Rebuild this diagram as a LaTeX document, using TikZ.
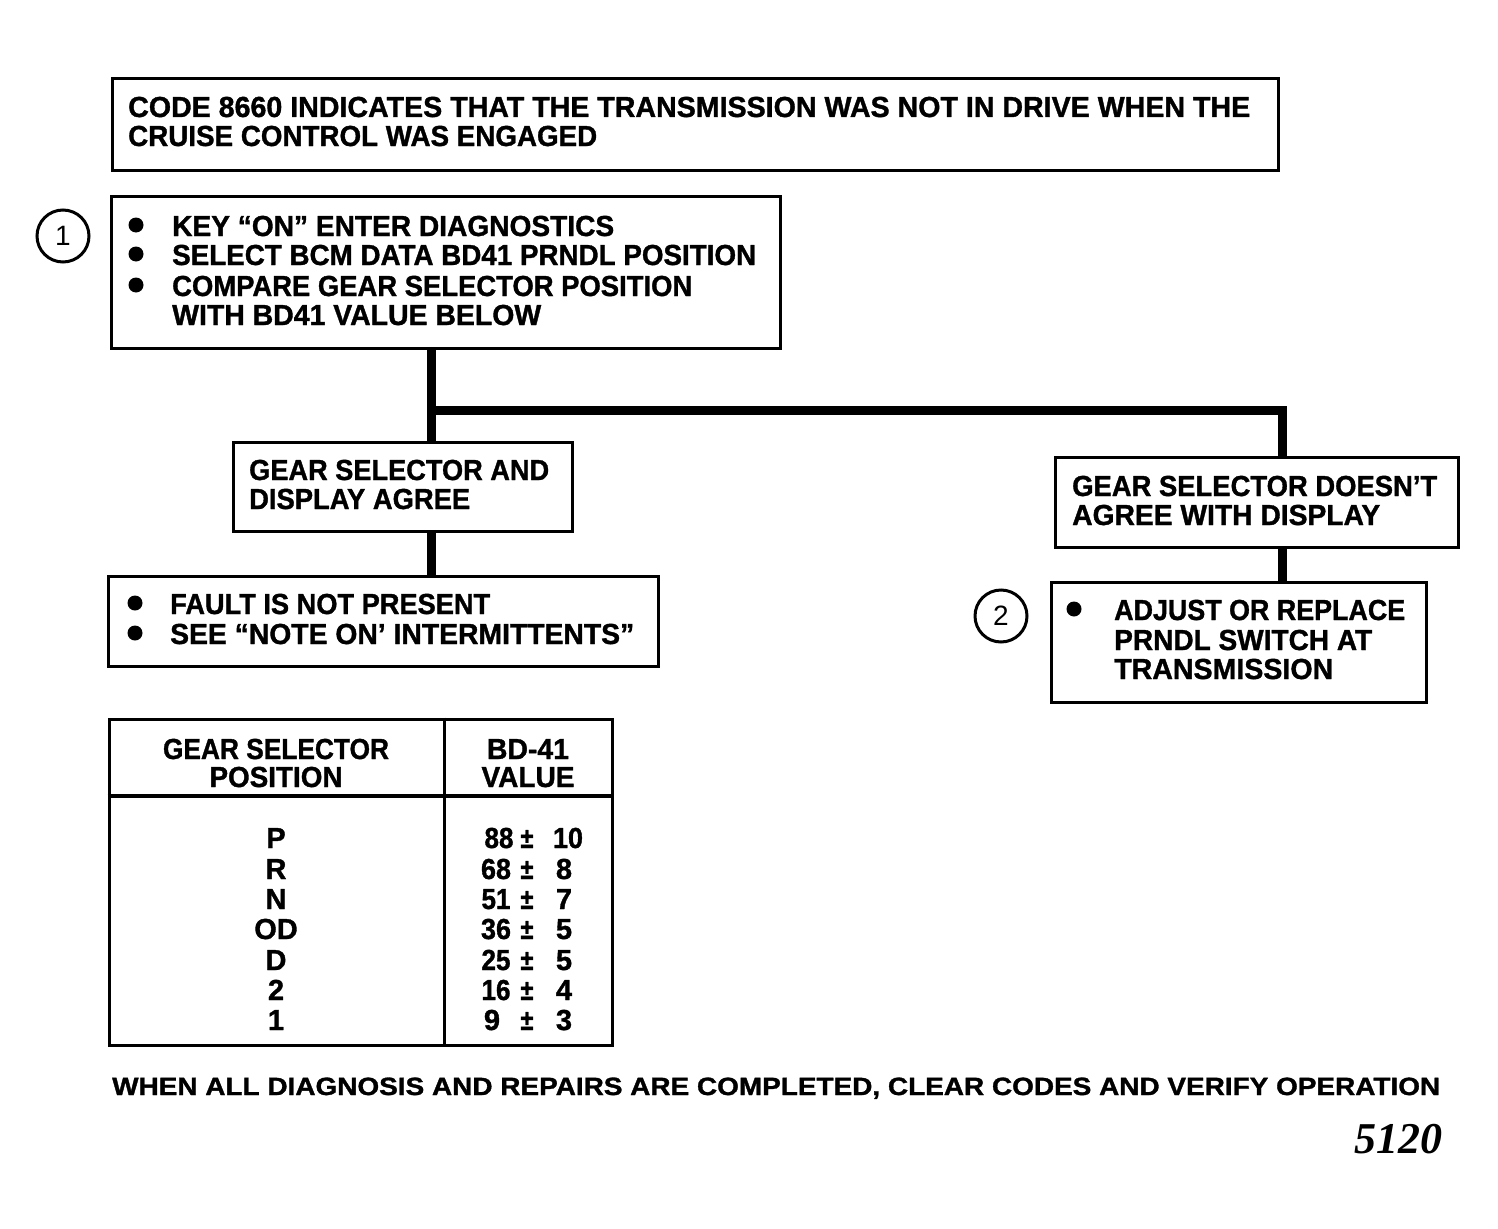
\documentclass[tikz,border=0pt]{standalone}
\usepackage{fontspec}
\usepackage{graphicx}
\setmainfont{Liberation Sans}[BoldFeatures={FakeBold=1.2}]
\newfontfamily\serfont{Liberation Serif}
\newcommand\fw[2]{\resizebox{#1pt}{\height}{#2}}
\tikzset{
  box/.style={draw, line width=3pt, inner sep=0pt, rectangle},
  conn/.style={line width=9pt, line join=miter},
  txt/.style={inner sep=0pt, anchor=base west, font=\fontsize{29}{30}\selectfont\bfseries},
  ctxt/.style={txt, anchor=base},
  foot/.style={txt, font=\fontsize{25}{27}\selectfont\bfseries},
  bul/.style={circle, fill, inner sep=0pt, minimum size=15pt},
  num/.style={circle, draw, line width=3pt, minimum size=52pt, inner sep=0pt, font=\fontsize{28}{30}\selectfont},
  tline/.style={line width=3pt},
  pm/.style={ctxt, xscale=0.85},
}
\begin{document}
\begin{tikzpicture}[x=1pt,y=-1pt]
\useasboundingbox (0,0) rectangle (1498,1228);
% boxes
\node[box, minimum width=1166pt, minimum height=91pt] (top) at (695,124.5) {};
\node[box, minimum width=669pt, minimum height=152pt] (b1) at (445.5,272) {};
\node[box, minimum width=339pt, minimum height=89pt] (agree) at (402.5,486.5) {};
\node[box, minimum width=550pt, minimum height=90pt] (fault) at (383,621) {};
\node[box, minimum width=403pt, minimum height=90pt] (nagree) at (1256.5,502) {};
\node[box, minimum width=375pt, minimum height=120pt] (adjust) at (1238.5,642) {};
\node[box, minimum width=503pt, minimum height=326pt] (tbl) at (360.5,882) {};
% step numbers
\node[num] (n1) at (63,236) {1};
\node[num] (n2) at (1001,616) {2};
% connectors
\coordinate (j) at (431,410);
\coordinate (jr) at (1282,410);
\draw[conn] (b1.south -| j) -- (agree.north -| j);
\draw[conn] (j) -- (jr) -- (nagree.north -| jr);
\draw[conn] (agree.south -| j) -- (fault.north -| j);
\draw[conn] (nagree.south -| jr) -- (adjust.north -| jr);
% top text
\node[txt] (t1) at (128,117) {\fw{1122}{CODE 8660 INDICATES THAT THE TRANSMISSION WAS NOT IN DRIVE WHEN THE}};
\node[txt] (t2) at (128,146) {\fw{469}{CRUISE CONTROL WAS ENGAGED}};
% box 1
\node[bul] (u1) at (136,225) {};
\node[bul] (u2) at (136,254) {};
\node[bul] (u3) at (136,285) {};
\node[txt] (s1) at (172,236) {\fw{442}{KEY “ON” ENTER DIAGNOSTICS}};
\node[txt] (s2) at (172,265) {\fw{584}{SELECT BCM DATA BD41 PRNDL POSITION}};
\node[txt] (s3) at (172,296) {\fw{520}{COMPARE GEAR SELECTOR POSITION}};
\node[txt] (s4) at (172,325) {\fw{369}{WITH BD41 VALUE BELOW}};
% agree
\node[txt] (a1) at (249,480) {\fw{300}{GEAR SELECTOR AND}};
\node[txt] (a2) at (249,509) {\fw{221}{DISPLAY AGREE}};
% fault
\node[bul] (u4) at (135,603) {};
\node[bul] (u5) at (135,633) {};
\node[txt] (f1) at (170,614) {\fw{320}{FAULT IS NOT PRESENT}};
\node[txt] (f2) at (170,644) {\fw{464}{SEE “NOTE ON’ INTERMITTENTS”}};
% not agree
\node[txt] (g1) at (1072,496) {\fw{365}{GEAR SELECTOR DOESN’T}};
\node[txt] (g2) at (1072,525) {\fw{308}{AGREE WITH DISPLAY}};
% adjust
\node[bul] (u6) at (1074,609) {};
\node[txt] (d1) at (1114,620) {\fw{291}{ADJUST OR REPLACE}};
\node[txt] (d2) at (1114,650) {\fw{258}{PRNDL SWITCH AT}};
\node[txt] (d3) at (1114,679) {\fw{219}{TRANSMISSION}};
% table
\coordinate (cd) at (444,0);
\coordinate (hd) at (0,796);
\draw[tline] (cd |- tbl.north) -- (cd |- tbl.south);
\draw[tline, line width=4pt] (tbl.west |- hd) -- (tbl.east |- hd);
\node[ctxt] (h1) at (276,759) {\fw{226}{GEAR SELECTOR}};
\node[ctxt] (h2) at (276,787) {\fw{133}{POSITION}};
\node[ctxt] (h3) at (528,759) {\fw{82}{BD-41}};
\node[ctxt] (h4) at (528,787) {\fw{93}{VALUE}};
\node[ctxt] (p1) at (276,848) {P};
\node[ctxt] (p2) at (276,879) {R};
\node[ctxt] (p3) at (276,909) {N};
\node[ctxt] (p4) at (276,939) {OD};
\node[ctxt] (p5) at (276,970) {D};
\node[ctxt] (p6) at (276,1000) {2};
\node[ctxt] (p7) at (276,1030) {1};
\node[ctxt] (v1) at (499,848) {\fw{29}{88}};
\node[ctxt] (v2) at (496,879) {\fw{30}{68}};
\node[ctxt] (v3) at (496,909) {\fw{29}{51}};
\node[ctxt] (v4) at (496,939) {\fw{30}{36}};
\node[ctxt] (v5) at (496,970) {\fw{29}{25}};
\node[ctxt] (v6) at (496,1000) {\fw{29}{16}};
\node[ctxt] (v7) at (492,1030) {9};
\node[ctxt] (m1) at (527,848) {\fw{13}{±}};
\node[ctxt] (m2) at (527,879) {\fw{13}{±}};
\node[ctxt] (m3) at (527,909) {\fw{13}{±}};
\node[ctxt] (m4) at (527,939) {\fw{13}{±}};
\node[ctxt] (m5) at (527,970) {\fw{13}{±}};
\node[ctxt] (m6) at (527,1000) {\fw{13}{±}};
\node[ctxt] (m7) at (527,1030) {\fw{13}{±}};
\node[ctxt] (w1) at (568,848) {\fw{30}{10}};
\node[ctxt] (w2) at (564,879) {8};
\node[ctxt] (w3) at (564,909) {7};
\node[ctxt] (w4) at (564,939) {5};
\node[ctxt] (w5) at (564,970) {5};
\node[ctxt] (w6) at (564,1000) {4};
\node[ctxt] (w7) at (564,1030) {3};
% footer
\node[foot] (ft) at (112,1095) {\fw{1328}{WHEN ALL DIAGNOSIS AND REPAIRS ARE COMPLETED, CLEAR CODES AND VERIFY OPERATION}};
\node[inner sep=0pt, anchor=base east, font=\serfont\fontsize{44}{46}\selectfont\bfseries\itshape] (fig) at (1443,1153) {5120};
\end{tikzpicture}
\end{document}
